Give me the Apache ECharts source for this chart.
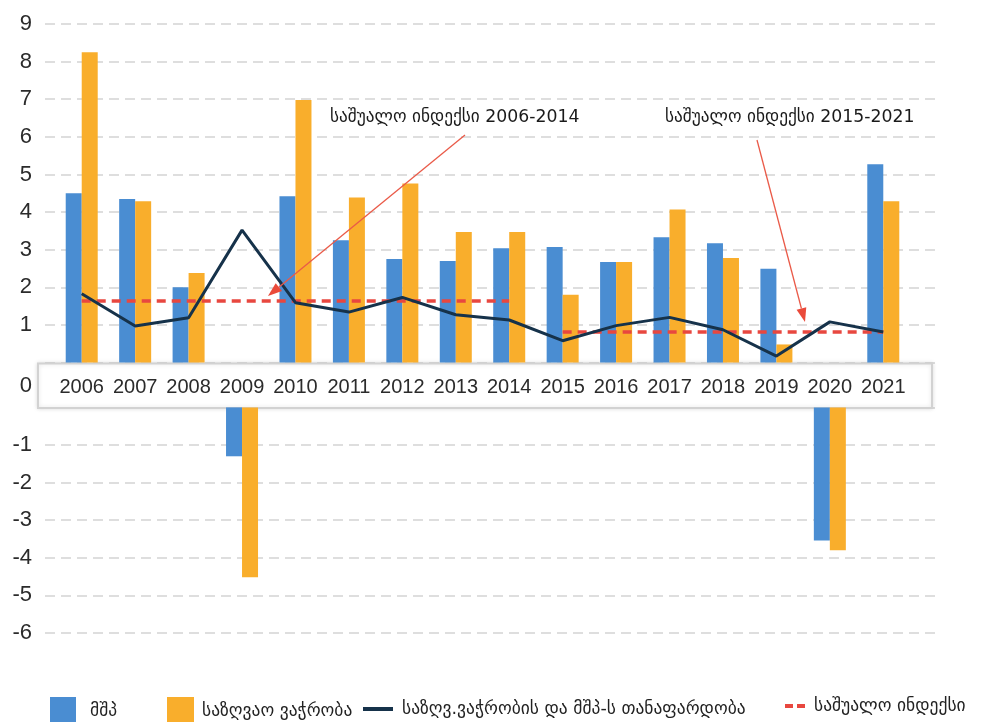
<!DOCTYPE html>
<html>
<head>
<meta charset="utf-8">
<script src="https://cdn.jsdelivr.net/npm/echarts@6/dist/echarts.min.js"></script>
<style>
  html, body { margin: 0; padding: 0; background: #fff; }
  #chart { width: 984px; height: 722px; }
</style>
</head>
<body>
<div id="chart"></div>
<script>
const years = ['2006', '2007', '2008', '2009', '2010', '2011', '2012', '2013', '2014', '2015', '2016', '2017', '2018', '2019', '2020', '2021']
const gdp = [4.5, 4.35, 2.0, -1.3, 4.42, 3.25, 2.75, 2.7, 3.04, 3.07, 2.67, 3.33, 3.17, 2.49, -3.54, 5.27]
const trade = [8.25, 4.29, 2.38, -4.52, 6.98, 4.39, 4.76, 3.47, 3.47, 1.8, 2.67, 4.07, 2.78, 0.48, -3.8, 4.29]
const ratio = [1.83, 0.97, 1.19, 3.52, 1.59, 1.34, 1.73, 1.27, 1.13, 0.58, 0.98, 1.2, 0.87, 0.17, 1.08, 0.81]
const avgPeriods = [['2006', '2014'], ['2015', '2021']]
const avgValues = [1.64, 0.82]
const names = ['მშპ', 'საზღვაო ვაჭრობა', 'საზღვ.ვაჭრობის და მშპ-ს თანაფარდობა', 'საშუალო ინდექსი']
const notes = ['საშუალო ინდექსი 2006-2014', 'საშუალო ინდექსი 2015-2021']

const BLUE = '#4a8dd2'
const ORANGE = '#f9ae2c'
const NAVY = '#16324a'
const RED = '#e8473f'
const geo = "'DejaVu Sans', 'Noto Sans', sans-serif"
const num = "'Liberation Sans', Arial, sans-serif"

const pos = arr => arr.map(v => (v >= 0 ? v : '-'))
const neg = arr => arr.map(v => (v < 0 ? v : '-'))

// annotation arrow: thin line + filled head
function arrow(x1, y1, x2, y2) {
  const a = Math.atan2(y2 - y1, x2 - x1)
  const len = 14
  const w = 5
  const bx = x2 - len * Math.cos(a)
  const by = y2 - len * Math.sin(a)
  return [
    { type: 'line', z: 10, shape: { x1, y1, x2: bx, y2: by }, style: { stroke: '#ea5a48', lineWidth: 1.3 } },
    {
      type: 'polygon',
      z: 10,
      shape: {
        points: [
          [x2, y2],
          [bx + w * Math.sin(a), by - w * Math.cos(a)],
          [bx - w * Math.sin(a), by + w * Math.cos(a)]
        ]
      },
      style: { fill: '#ea4a3a' }
    }
  ]
}

const splitStyle = { show: true, lineStyle: { color: '#d4d4d4', width: 1.5, type: [10, 6] } }
const yLabel = { color: '#2b2b2b', fontSize: 22, fontFamily: num, margin: 13 }

const legendText = pad => ({ fontFamily: geo, fontSize: 17.5, color: '#222', padding: [2, 0, 0, pad] })

const option = {
  animation: false,
  backgroundColor: '#fff',
  grid: [
    { left: 45, right: 49, top: 24, height: 338.5 },
    { left: 45, right: 49, top: 407.4, height: 225.6 },
    { left: 55, right: 74, top: 24, height: 338.5 },
    { left: 55, right: 74, top: 407.4, height: 225.6 }
  ],
  xAxis: [
    { gridIndex: 0, type: 'value', show: false, min: 0, max: 1 },
    { gridIndex: 1, type: 'value', show: false, min: 0, max: 1 },
    {
      gridIndex: 2,
      type: 'category',
      data: years,
      z: 20,
      axisLine: { show: false },
      axisTick: { show: false },
      axisLabel: {
        interval: 0,
        color: '#2b2b2b',
        fontSize: 20,
        fontFamily: num,
        margin: 24.5,
        verticalAlign: 'middle'
      }
    },
    { gridIndex: 3, type: 'category', data: years, show: false }
  ],
  yAxis: [
    {
      gridIndex: 0,
      type: 'value',
      min: 0,
      max: 9,
      interval: 1,
      axisLine: { show: false },
      axisTick: { show: false },
      splitLine: splitStyle,
      axisLabel: { ...yLabel, formatter: v => (v === 0 ? '' : v) }
    },
    {
      gridIndex: 1,
      type: 'value',
      min: -6,
      max: 0,
      interval: 1,
      axisLine: { show: false },
      axisTick: { show: false },
      splitLine: splitStyle,
      axisLabel: { ...yLabel, formatter: v => (v === 0 ? '' : v) }
    },
    { gridIndex: 2, type: 'value', show: false, min: 0, max: 9 },
    { gridIndex: 3, type: 'value', show: false, min: -6, max: 0 }
  ],
  legend: [
    {
      left: 45,
      top: 692,
      selectedMode: false,
      data: [{ name: names[0], icon: 'rect' }],
      itemWidth: 26,
      itemHeight: 28,
      textStyle: legendText(9)
    },
    {
      left: 162,
      top: 692,
      selectedMode: false,
      data: [{ name: names[1], icon: 'rect' }],
      itemWidth: 27,
      itemHeight: 28,
      textStyle: legendText(3)
    },
    {
      left: 358,
      top: 695,
      selectedMode: false,
      data: [{ name: names[2], icon: 'rect' }],
      itemWidth: 30,
      itemHeight: 4,
      textStyle: legendText(4)
    },
    {
      left: 780,
      top: 692,
      selectedMode: false,
      data: [{ name: names[3], icon: 'path://M0,0H8V4H0Z M12,0H20V4H12Z' }],
      itemWidth: 20,
      itemHeight: 4,
      itemStyle: { color: RED },
      textStyle: legendText(4)
    }
  ],
  graphic: [
    {
      type: 'rect',
      z: 1,
      shape: { x: 38, y: 363.5, width: 894, height: 44.5 },
      style: { fill: '#fff', stroke: '#d2d2d2', lineWidth: 2, shadowBlur: 4, shadowColor: 'rgba(0,0,0,0.12)' }
    },
    {
      type: 'text',
      z: 20,
      x: 32,
      y: 386,
      style: { text: '0', fill: '#2b2b2b', font: '22px ' + num, align: 'right', verticalAlign: 'middle' }
    },
    {
      type: 'text',
      z: 10,
      x: 330,
      y: 118,
      style: { text: notes[0], fill: '#1a1a1a', font: '17.3px ' + geo, verticalAlign: 'middle' }
    },
    {
      type: 'text',
      z: 10,
      x: 665,
      y: 118,
      style: { text: notes[1], fill: '#1a1a1a', font: '17.3px ' + geo, verticalAlign: 'middle' }
    },
    ...arrow(465, 135, 268, 296),
    ...arrow(757, 140, 805, 322)
  ],
  series: [
    {
      name: names[0],
      type: 'bar',
      xAxisIndex: 2,
      yAxisIndex: 2,
      barWidth: 16,
      barGap: '0%',
      itemStyle: { color: BLUE },
      data: pos(gdp)
    },
    {
      name: names[1],
      type: 'bar',
      xAxisIndex: 2,
      yAxisIndex: 2,
      barWidth: 16,
      barGap: '0%',
      itemStyle: { color: ORANGE },
      data: pos(trade)
    },
    {
      name: names[0],
      type: 'bar',
      xAxisIndex: 3,
      yAxisIndex: 3,
      barWidth: 16,
      barGap: '0%',
      itemStyle: { color: BLUE },
      data: neg(gdp)
    },
    {
      name: names[1],
      type: 'bar',
      xAxisIndex: 3,
      yAxisIndex: 3,
      barWidth: 16,
      barGap: '0%',
      itemStyle: { color: ORANGE },
      data: neg(trade)
    },
    {
      name: names[2],
      type: 'line',
      xAxisIndex: 2,
      yAxisIndex: 2,
      z: 5,
      symbol: 'none',
      itemStyle: { color: NAVY },
      lineStyle: { color: NAVY, width: 3 },
      data: ratio
    },
    {
      name: names[3],
      type: 'line',
      xAxisIndex: 2,
      yAxisIndex: 2,
      z: 4,
      symbol: 'none',
      itemStyle: { color: RED },
      lineStyle: { color: RED, width: 3.5, type: [9, 6] },
      data: [],
      markLine: {
        silent: true,
        symbol: 'none',
        label: { show: false },
        lineStyle: { color: RED, width: 3.5, type: [9, 6] },
        data: avgPeriods.map(([a, b], i) => [{ coord: [a, avgValues[i]] }, { coord: [b, avgValues[i]] }])
      }
    }
  ]
}

const chart = echarts.init(document.getElementById('chart'))
chart.setOption(option)
</script>
</body>
</html>
